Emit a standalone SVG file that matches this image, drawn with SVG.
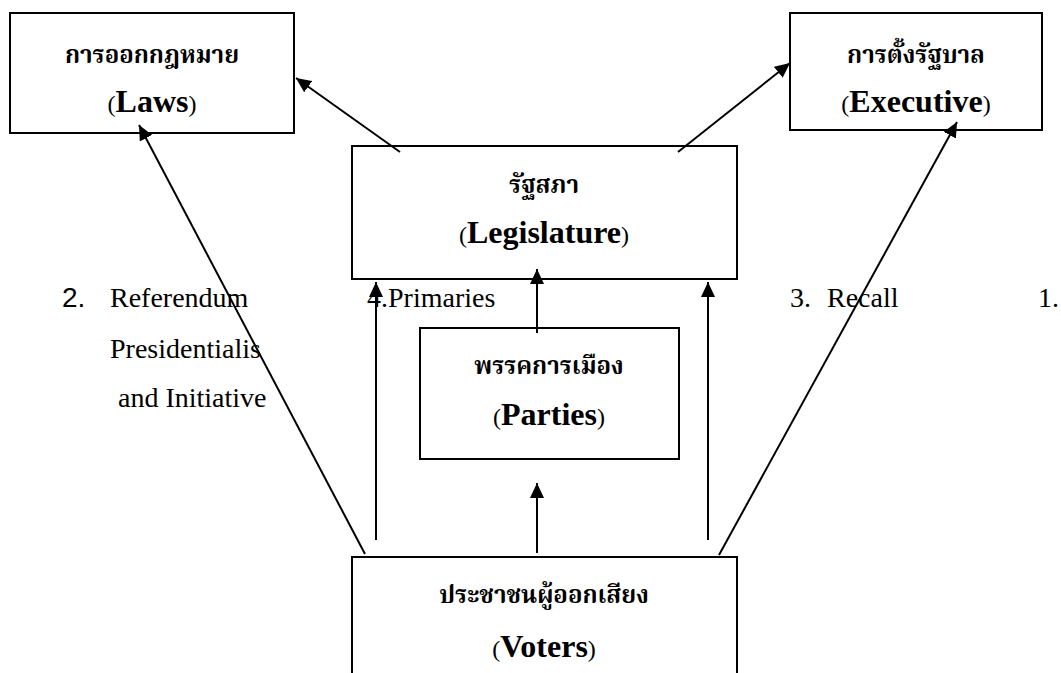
<svg xmlns="http://www.w3.org/2000/svg" width="1061" height="673" viewBox="0 0 1061 673">
<style>
.box{fill:#fff;stroke:#000;stroke-width:2}
.th{font-family:"Liberation Serif",Tinos,"Times New Roman","Noto Serif Thai","Noto Sans Thai",serif;font-weight:bold;font-size:24px;text-anchor:middle;fill:#000}
.en{font-family:"Liberation Serif",Tinos,"Times New Roman","Noto Serif","DejaVu Serif",serif;text-anchor:middle;fill:#000}
.par{font-size:24px}
.w{font-size:32px;font-weight:bold}
.lbl{font-family:"Liberation Serif",Tinos,"Times New Roman","Noto Serif","DejaVu Serif",serif;font-size:28px;fill:#000}
.num{font-family:"Liberation Sans",Arimo,Arial,sans-serif;font-size:28px;fill:#000}
.ln{stroke:#000;stroke-width:2;fill:none}
</style>
<defs>
<marker id="ah" markerUnits="userSpaceOnUse" markerWidth="16" markerHeight="14" refX="15" refY="7" orient="auto">
<path d="M0,0 L15,7 L0,14 z" fill="#000"/>
</marker>
</defs>
<rect width="1061" height="673" fill="#fff"/>
<g id="laws">
<rect class="box" x="10" y="13" width="284" height="120"/>
<text class="th" x="152" y="63">การออกกฎหมาย</text>
<text class="en" x="152" y="112"><tspan class="par">(</tspan><tspan class="w">Laws</tspan><tspan class="par">)</tspan></text>
</g>
<g id="executive">
<rect class="box" x="790" y="13" width="252" height="117"/>
<text class="th" x="916" y="63">การตั้งรัฐบาล</text>
<text class="en" x="916" y="112"><tspan class="par">(</tspan><tspan class="w">Executive</tspan><tspan class="par">)</tspan></text>
</g>
<g id="legislature">
<rect class="box" x="352" y="146" width="385" height="133"/>
<text class="th" x="544" y="193">รัฐสภา</text>
<text class="en" x="544" y="243"><tspan class="par">(</tspan><tspan class="w">Legislature</tspan><tspan class="par">)</tspan></text>
</g>
<g id="parties">
<rect class="box" x="420" y="328" width="259" height="131"/>
<text class="th" x="549" y="374">พรรคการเมือง</text>
<text class="en" x="549" y="425"><tspan class="par">(</tspan><tspan class="w">Parties</tspan><tspan class="par">)</tspan></text>
</g>
<g id="voters">
<rect class="box" x="352" y="557" width="385" height="130"/>
<text class="th" x="544" y="603">ประชาชนผู้ออกเสียง</text>
<text class="en" x="544" y="657"><tspan class="par">(</tspan><tspan class="w">Voters</tspan><tspan class="par">)</tspan></text>
</g>
<g id="labels">
<text class="num" x="62" y="307">2.</text>
<text class="lbl" x="110" y="307">Referendum</text>
<text class="lbl" x="110" y="358">Presidentialis</text>
<text class="lbl" x="118" y="407">and Initiative</text>
<text class="lbl" x="367" y="307">4.Primaries</text>
<text class="lbl" x="790" y="307">3.</text>
<text class="lbl" x="827" y="307">Recall</text>
<text class="lbl" x="1038" y="307">1.</text>
</g>
<g id="connectors">
<line class="ln" x1="400" y1="152" x2="296" y2="78" marker-end="url(#ah)"/>
<line class="ln" x1="678" y1="152" x2="790" y2="63" marker-end="url(#ah)"/>
<line class="ln" x1="365" y1="554" x2="139" y2="125" marker-end="url(#ah)"/>
<line class="ln" x1="719" y1="555" x2="957" y2="122" marker-end="url(#ah)"/>
<line class="ln" x1="376" y1="540" x2="376" y2="282" marker-end="url(#ah)"/>
<line class="ln" x1="708" y1="540" x2="708" y2="282" marker-end="url(#ah)"/>
<line class="ln" x1="537" y1="333" x2="537" y2="269" marker-end="url(#ah)"/>
<line class="ln" x1="537" y1="553" x2="537" y2="483" marker-end="url(#ah)"/>
</g>
</svg>
